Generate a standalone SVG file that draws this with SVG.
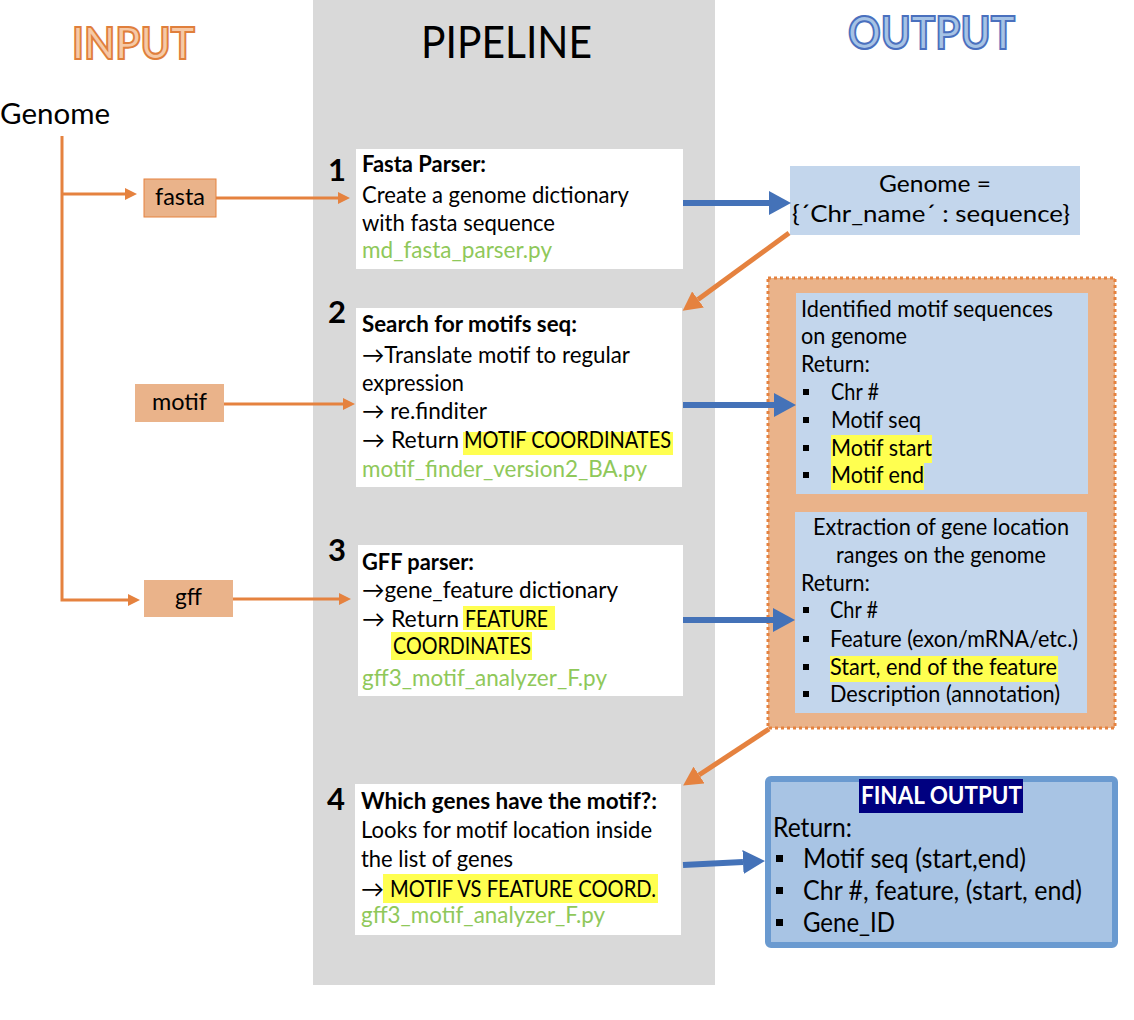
<svg xmlns="http://www.w3.org/2000/svg" width="1134" height="1020" viewBox="0 0 1134 1020">
<style>
text{font-family:Lato,"Liberation Sans",sans-serif;fill:#000}
.t{font-size:23px}
.b{font-weight:bold}
.g{fill:#8FC85A}
.num{font-size:31px;font-weight:bold;text-anchor:end}
.hl{fill:#FFFF50}
.wbox{fill:#fff}
.lb{fill:#C3D6EC}
.ib{fill:#EAB38A}
.ol{stroke:#E5823F;stroke-width:3;fill:none}
.od{stroke:#E5823F;stroke-width:5;fill:none}
.bl{stroke:#4472B8;stroke-width:6;fill:none}
.sq{fill:#000}
</style>
<defs>
<marker id="ao" markerUnits="userSpaceOnUse" markerWidth="12" markerHeight="12" refX="0" refY="6" orient="auto"><path d="M0,0 L12,6 L0,12 z" fill="#E5823F"/></marker>
<marker id="ad" markerUnits="userSpaceOnUse" markerWidth="19" markerHeight="20" refX="0" refY="10" orient="auto"><path d="M0,0 L19,10 L0,20 z" fill="#E5823F"/></marker>
<marker id="ab" markerUnits="userSpaceOnUse" markerWidth="22" markerHeight="24" refX="0" refY="12" orient="auto"><path d="M0,0 L22,12 L0,24 z" fill="#4472B8"/></marker>
</defs>
<rect width="1134" height="1020" fill="#fff"/>
<rect x="313" y="0" width="402" height="985" fill="#D9D9D9"/>

<g id="titles">
<text x="72" y="59" font-size="44" font-weight="bold" stroke="#E07F3C" stroke-width="2" textLength="123" lengthAdjust="spacingAndGlyphs" style="fill:#F6C9A6">INPUT</text>
<text x="421" y="58" font-size="44" textLength="171" lengthAdjust="spacingAndGlyphs">PIPELINE</text>
<text x="848" y="49" font-size="46" font-weight="bold" stroke="#4A70BE" stroke-width="2" textLength="167" lengthAdjust="spacingAndGlyphs" style="fill:#A6C3E5">OUTPUT</text>
</g>

<g id="genome-input"><text x="0" y="124" font-size="28" textLength="110" lengthAdjust="spacingAndGlyphs">Genome</text></g>

<g id="fasta"><rect class="ib" x="144" y="179" width="72" height="38" stroke="#E5823F" stroke-width="1"/><text class="t" x="180" y="205" text-anchor="middle" textLength="50" lengthAdjust="spacingAndGlyphs">fasta</text></g>
<g id="motif"><rect class="ib" x="135" y="384" width="89" height="38"/><text class="t" x="179.5" y="410" text-anchor="middle" textLength="55" lengthAdjust="spacingAndGlyphs">motif</text></g>
<g id="gff"><rect class="ib" x="144" y="580" width="89" height="37"/><text class="t" x="188.5" y="605" text-anchor="middle" textLength="27" lengthAdjust="spacingAndGlyphs">gff</text></g>

<g id="step1">
<rect class="wbox" x="356" y="149" width="327" height="120"/>
<text class="num" x="346" y="181">1</text>
<text class="t b" x="362" y="172" textLength="124" lengthAdjust="spacingAndGlyphs">Fasta Parser:</text>
<text class="t" x="362" y="203" textLength="267" lengthAdjust="spacingAndGlyphs">Create a genome dictionary</text>
<text class="t" x="362" y="231" textLength="193" lengthAdjust="spacingAndGlyphs">with fasta sequence</text>
<text class="t g" x="362" y="258" textLength="190" lengthAdjust="spacingAndGlyphs">md_fasta_parser.py</text>
</g>

<g id="step2">
<rect class="wbox" x="356" y="308" width="326" height="179"/>
<text class="num" x="346" y="323">2</text>
<text class="t b" x="362" y="332" textLength="215" lengthAdjust="spacingAndGlyphs">Search for motifs seq:</text>
<text class="t" x="362" y="363" textLength="268" lengthAdjust="spacingAndGlyphs">→Translate motif to regular</text>
<text class="t" x="362" y="391" textLength="102" lengthAdjust="spacingAndGlyphs">expression</text>
<text class="t" x="362" y="419" textLength="125" lengthAdjust="spacingAndGlyphs">→ re.finditer</text>
<rect class="hl" x="463" y="432" width="210" height="23"/>
<text class="t" x="362" y="448" textLength="97" lengthAdjust="spacingAndGlyphs">→ Return</text>
<text class="t" x="464" y="448" textLength="207" lengthAdjust="spacingAndGlyphs">MOTIF COORDINATES</text>
<text class="t g" x="362" y="477" textLength="285" lengthAdjust="spacingAndGlyphs">motif_finder_version2_BA.py</text>
</g>

<g id="step3">
<rect class="wbox" x="358" y="545" width="325" height="151"/>
<text class="num" x="346" y="561">3</text>
<text class="t b" x="362" y="570" textLength="112" lengthAdjust="spacingAndGlyphs">GFF parser:</text>
<text class="t" x="362" y="598" textLength="256" lengthAdjust="spacingAndGlyphs">→gene_feature dictionary</text>
<rect class="hl" x="463" y="606" width="92" height="24"/>
<rect class="hl" x="391" y="632" width="141" height="28"/>
<text class="t" x="362" y="627" textLength="97" lengthAdjust="spacingAndGlyphs">→ Return</text>
<text class="t" x="465" y="627" textLength="83" lengthAdjust="spacingAndGlyphs">FEATURE</text>
<text class="t" x="393" y="654" textLength="138" lengthAdjust="spacingAndGlyphs">COORDINATES</text>
<text class="t g" x="362" y="686" textLength="245" lengthAdjust="spacingAndGlyphs">gff3_motif_analyzer_F.py</text>
</g>

<g id="step4">
<rect class="wbox" x="355" y="784" width="326" height="151"/>
<text class="num" x="345" y="810">4</text>
<text class="t b" x="361" y="809" textLength="296" lengthAdjust="spacingAndGlyphs">Which genes have the motif?:</text>
<text class="t" x="361" y="838" textLength="291" lengthAdjust="spacingAndGlyphs">Looks for motif location inside</text>
<text class="t" x="361" y="867" textLength="152" lengthAdjust="spacingAndGlyphs">the list of genes</text>
<rect class="hl" x="383" y="874" width="275" height="29"/>
<text class="t" x="361" y="897">→</text>
<text class="t" x="390" y="897" textLength="266" lengthAdjust="spacingAndGlyphs">MOTIF VS FEATURE COORD.</text>
<text class="t g" x="361" y="923" textLength="244" lengthAdjust="spacingAndGlyphs">gff3_motif_analyzer_F.py</text>
</g>

<g id="genome-output">
<rect class="lb" x="790" y="166" width="290" height="69"/>
<text class="t" x="935" y="192" text-anchor="middle" textLength="112" lengthAdjust="spacingAndGlyphs">Genome =</text>
<text class="t" x="931" y="222" text-anchor="middle" textLength="278" lengthAdjust="spacingAndGlyphs">{´Chr_name´ : sequence}</text>
</g>

<g id="intermediate-output">
<rect class="ib" x="768" y="278" width="347" height="450" stroke="#E5823F" stroke-width="3" stroke-dasharray="3 3"/>
<g id="motif-result">
<rect class="lb" x="796" y="293" width="292" height="201"/>
<text class="t" x="801" y="317" textLength="252" lengthAdjust="spacingAndGlyphs">Identified motif sequences</text>
<text class="t" x="801" y="344" textLength="106" lengthAdjust="spacingAndGlyphs">on genome</text>
<text class="t" x="801" y="372" textLength="69" lengthAdjust="spacingAndGlyphs">Return:</text>
<rect class="hl" x="831" y="435" width="101" height="28"/>
<rect class="hl" x="831" y="463" width="93" height="27"/>
<rect class="sq" x="803" y="389" width="6" height="6"/><text class="t" x="831" y="400" textLength="48" lengthAdjust="spacingAndGlyphs">Chr #</text>
<rect class="sq" x="803" y="417" width="6" height="6"/><text class="t" x="831" y="428" textLength="90" lengthAdjust="spacingAndGlyphs">Motif seq</text>
<rect class="sq" x="803" y="445" width="6" height="6"/><text class="t" x="831" y="456" textLength="101" lengthAdjust="spacingAndGlyphs">Motif start</text>
<rect class="sq" x="803" y="472" width="6" height="6"/><text class="t" x="831" y="483" textLength="93" lengthAdjust="spacingAndGlyphs">Motif end</text>
</g>
<g id="feature-result">
<rect class="lb" x="795" y="512" width="292" height="201"/>
<text class="t" x="941" y="535" text-anchor="middle" textLength="256" lengthAdjust="spacingAndGlyphs">Extraction of  gene location</text>
<text class="t" x="941" y="563" text-anchor="middle" textLength="210" lengthAdjust="spacingAndGlyphs">ranges on the genome</text>
<text class="t" x="801" y="591" textLength="69" lengthAdjust="spacingAndGlyphs">Return:</text>
<rect class="hl" x="830" y="656" width="228" height="26"/>
<rect class="sq" x="803" y="607" width="6" height="6"/><text class="t" x="830" y="618" textLength="48" lengthAdjust="spacingAndGlyphs">Chr #</text>
<rect class="sq" x="803" y="636" width="6" height="6"/><text class="t" x="830" y="647" textLength="248" lengthAdjust="spacingAndGlyphs">Feature (exon/mRNA/etc.)</text>
<rect class="sq" x="803" y="664" width="6" height="6"/><text class="t" x="830" y="675" textLength="227" lengthAdjust="spacingAndGlyphs">Start, end of the feature</text>
<rect class="sq" x="803" y="691" width="6" height="6"/><text class="t" x="830" y="702" textLength="230" lengthAdjust="spacingAndGlyphs">Description (annotation)</text>
</g>
</g>

<g id="final-output">
<rect x="768" y="779" width="347" height="166" rx="3" fill="#A8C4E4" stroke="#6A9AD0" stroke-width="6"/>
<rect x="859" y="779" width="164" height="34" fill="#000080"/>
<text x="861" y="804" font-size="24" font-weight="bold" textLength="161" lengthAdjust="spacingAndGlyphs" style="fill:#fff">FINAL OUTPUT</text>
<text x="773" y="837" font-size="26" textLength="79" lengthAdjust="spacingAndGlyphs">Return:</text>
<rect class="sq" x="776" y="855" width="7" height="7"/><text x="803" y="868" font-size="26" textLength="223" lengthAdjust="spacingAndGlyphs">Motif seq (start,end)</text>
<rect class="sq" x="776" y="887" width="7" height="7"/><text x="803" y="900" font-size="26" textLength="279" lengthAdjust="spacingAndGlyphs">Chr #, feature, (start, end)</text>
<rect class="sq" x="776" y="919" width="7" height="7"/><text x="803" y="932" font-size="26" textLength="92" lengthAdjust="spacingAndGlyphs">Gene_ID</text>
</g>

<g id="connectors">
<path class="ol" d="M62,136 V600 H128" marker-end="url(#ao)"/>
<path class="ol" d="M62,194 H125" marker-end="url(#ao)"/>
<path class="ol" d="M216,198 H338" marker-end="url(#ao)"/>
<path class="ol" d="M224,404 H343" marker-end="url(#ao)"/>
<path class="ol" d="M233,599 H339" marker-end="url(#ao)"/>
<path class="bl" d="M683,203 H769" marker-end="url(#ab)"/>
<path class="bl" d="M683,405 H774" marker-end="url(#ab)"/>
<path class="bl" d="M683,620 H773" marker-end="url(#ab)"/>
<path class="bl" d="M683,865 L743,862" marker-end="url(#ab)"/>
<path class="od" d="M789,233 L698,299.5" marker-end="url(#ad)"/>
<path class="od" d="M769,729 L699,775" marker-end="url(#ad)"/>
</g>
</svg>
